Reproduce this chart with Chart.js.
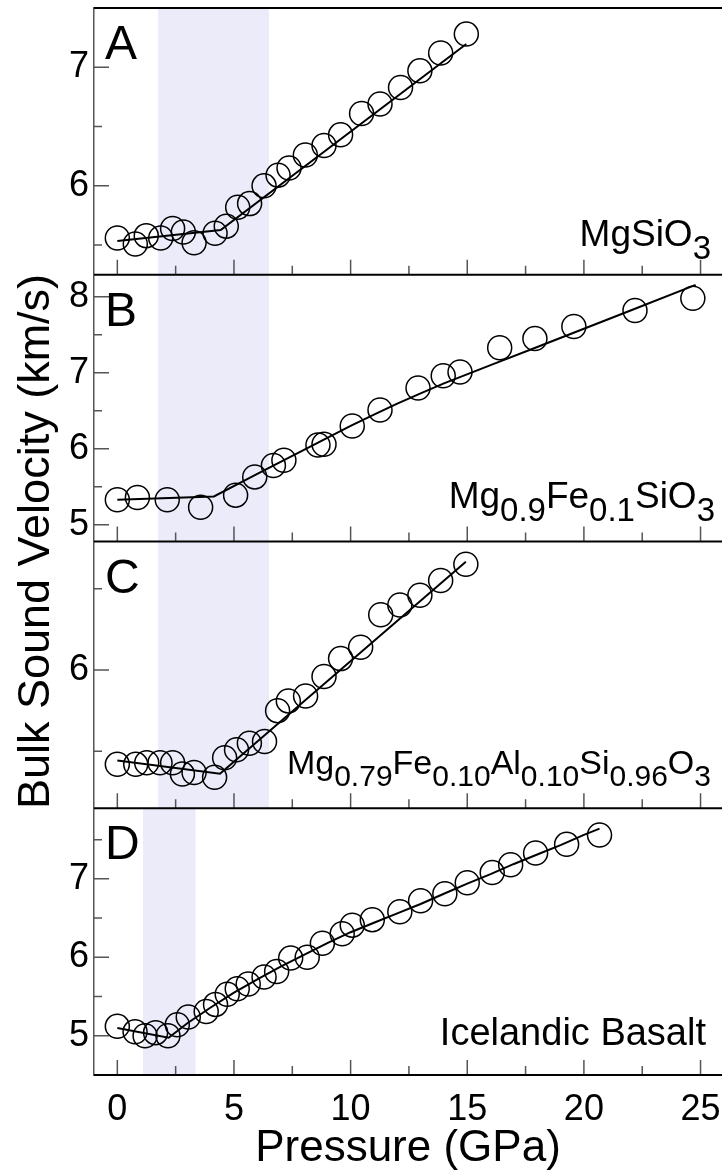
<!DOCTYPE html>
<html>
<head>
<meta charset="utf-8">
<script src="https://cdn.jsdelivr.net/npm/chart.js@4/dist/chart.umd.min.js"></script>
<style>
  html, body { margin: 0; padding: 0; background: #fff; overflow: hidden; }
  canvas { display: block; }
</style>
</head>
<body>
<canvas id="chart" width="722" height="1175"></canvas>
<script>
// pressure (GPa) and bulk sound velocity (km/s)
var pressA = [0, 0.77, 1.24, 1.86, 2.37, 2.83, 3.29, 4.19, 4.67, 5.16, 5.67, 6.29, 6.89, 7.36, 8.06, 8.86, 9.57, 10.47, 11.26, 12.14, 12.97, 13.86, 14.96];
var velA = [5.56, 5.51, 5.58, 5.56, 5.64, 5.61, 5.52, 5.60, 5.66, 5.82, 5.85, 6.00, 6.09, 6.15, 6.26, 6.34, 6.43, 6.61, 6.69, 6.83, 6.97, 7.12, 7.28];
var fitPressA = [0, 4.43, 14.96];
var fitVelA = [5.535, 5.628, 7.197];

var pressB = [0, 0.86, 2.14, 3.57, 5.07, 5.89, 6.69, 7.14, 8.6, 8.86, 10.07, 11.26, 12.89, 13.97, 14.69, 16.39, 17.9, 19.57, 22.19, 24.67];
var velB = [5.33, 5.36, 5.33, 5.23, 5.39, 5.63, 5.78, 5.85, 6.05, 6.06, 6.30, 6.51, 6.80, 6.96, 7.01, 7.33, 7.45, 7.61, 7.82, 7.98];
var fitPressB = [0, 4.14, 6, 8, 10, 11, 12, 13, 14, 16, 18, 20, 22, 24.79];
var fitVelB = [5.328, 5.372, 5.67, 5.985, 6.30, 6.45, 6.595, 6.73, 6.86, 7.10, 7.34, 7.58, 7.82, 8.157];

var pressC = [0, 0.79, 1.26, 1.83, 2.37, 2.79, 3.29, 4.17, 4.6, 5.11, 5.66, 6.31, 6.87, 7.33, 8.07, 8.86, 9.57, 10.43, 11.29, 12.11, 12.97, 13.86, 14.94];
var velC = [5.42, 5.42, 5.43, 5.43, 5.43, 5.36, 5.37, 5.34, 5.46, 5.51, 5.55, 5.56, 5.75, 5.81, 5.84, 5.96, 6.07, 6.14, 6.34, 6.40, 6.46, 6.55, 6.65];
var fitPressC = [0, 4.4, 14.94];
var fitVelC = [5.444, 5.362, 6.665];

var pressD = [0, 0.76, 1.19, 1.64, 2.17, 2.57, 3.04, 3.81, 4.21, 4.71, 5.14, 5.61, 6.29, 6.83, 7.43, 8.14, 8.79, 9.64, 10.07, 10.93, 12.11, 13.0, 14.04, 15.0, 16.07, 16.86, 17.93, 19.26, 20.67];
var velD = [5.12, 5.05, 5.00, 5.04, 5.00, 5.14, 5.24, 5.31, 5.40, 5.53, 5.60, 5.66, 5.75, 5.82, 5.99, 6.00, 6.18, 6.30, 6.41, 6.48, 6.58, 6.72, 6.81, 6.95, 7.08, 7.18, 7.33, 7.44, 7.56];
var fitPressD = [0, 2.2, 3, 4, 5, 6, 7, 8, 9, 10, 11, 12, 13, 14, 15, 16, 17, 18, 19, 20, 20.67];
var fitVelD = [5.10, 4.975, 5.16, 5.36, 5.55, 5.72, 5.88, 6.03, 6.18, 6.32, 6.44, 6.56, 6.68, 6.81, 6.94, 7.06, 7.19, 7.31, 7.43, 7.56, 7.64];

// shaded pressure bands
var shadeA = [1.75, 6.5];
var shadeB = [1.75, 6.5];
var shadeC = [1.75, 6.5];
var shadeD = [1.1, 3.35];

// axis ranges and labelled ticks
var pressRange = [-1, 25.92];
var pressTicks = [0, 5, 10, 15, 20, 25];
var rangeA = [5.25, 7.5];
var rangeB = [4.78, 8.29];
var rangeC = [5.15, 6.79];
var rangeD = [4.5, 7.9];
var ticksA = [6, 7];
var ticksB = [5, 6, 7, 8];
var ticksC = [6];
var ticksD = [5, 6, 7];

// sample names, [text, isSubscript]
var nameA = [["MgSiO", 0], ["3", 1]];
var nameB = [["Mg", 0], ["0.9", 1], ["Fe", 0], ["0.1", 1], ["SiO", 0], ["3", 1]];
var nameC = [["Mg", 0], ["0.79", 1], ["Fe", 0], ["0.10", 1], ["Al", 0], ["0.10", 1], ["Si", 0], ["0.96", 1], ["O", 0], ["3", 1]];
var nameD = [["Icelandic Basalt", 0]];

var FONT = "'Liberation Sans', Arial, Helvetica, sans-serif";
Chart.defaults.font.family = FONT;
Chart.defaults.color = "#000";

var panels = [
    { id: "yA", letter: "A", shade: shadeA, name: nameA, size: 37, right: 11, base: 29 },
    { id: "yB", letter: "B", shade: shadeB, name: nameB, size: 37, right: 7, base: 34 },
    { id: "yC", letter: "C", shade: shadeC, name: nameC, size: 34, right: 11, base: 34 },
    { id: "yD", letter: "D", shade: shadeD, name: nameD, size: 38, right: 16, base: 30 },
];

function pts(xs, ys) {
    return xs.map(function (x, i) { return { x: x, y: ys[i] }; });
}

function yAxis(range, labels) {
    return {
        type: "linear",
        position: "left",
        stack: "v",
        stackWeight: 1,
        weight: 0,
        min: range[0],
        max: range[1],
        grid: { display: false, drawTicks: false },
        border: { display: true, color: "#555", width: 1.5 },
        ticks: {
            stepSize: 0.5,
            includeBounds: false,
            autoSkip: false,
            padding: 5,
            font: { size: 36 },
            callback: function (v) { return labels.indexOf(v) >= 0 ? String(v) : ""; },
        },
        afterFit: function (s) {
            s.width = 36;
            s.paddingTop = 0;
            s.paddingBottom = 0;
        },
    };
}

var deco = {
    id: "deco",
    beforeDatasetsDraw: function (chart) {
        var ctx = chart.ctx, xs = chart.scales.x;
        ctx.save();
        ctx.fillStyle = "rgb(235,235,250)";
        panels.forEach(function (p) {
            var ys = chart.scales[p.id];
            var x1 = xs.getPixelForValue(p.shade[0]);
            var x2 = xs.getPixelForValue(p.shade[1]);
            ctx.fillRect(x1, ys.top, x2 - x1, ys.bottom - ys.top);
        });
        ctx.restore();
    },
    afterDatasetsDraw: function (chart) {
        var ctx = chart.ctx, xs = chart.scales.x, area = chart.chartArea;
        ctx.save();
        panels.forEach(function (p, idx) {
            var ys = chart.scales[p.id];
            // inward ticks
            ctx.strokeStyle = "#555";
            ctx.lineWidth = 1.5;
            ctx.beginPath();
            for (var v = 0; v <= 25; v += 2.5) {
                var px = xs.getPixelForValue(v);
                var len = v % 5 === 0 ? 15 : 9;
                ctx.moveTo(px, ys.bottom);
                ctx.lineTo(px, ys.bottom - len);
            }
            ys.ticks.forEach(function (t) {
                var py = ys.getPixelForValue(t.value);
                var len = Number.isInteger(t.value) ? 15 : 8;
                ctx.moveTo(area.left, py);
                ctx.lineTo(area.left + len, py);
            });
            ctx.stroke();
            // panel frame lines
            ctx.strokeStyle = "#000";
            ctx.lineWidth = 2;
            ctx.beginPath();
            ctx.moveTo(area.left, ys.top);
            ctx.lineTo(area.right, ys.top);
            if (idx === panels.length - 1) {
                ctx.moveTo(area.left, ys.bottom);
                ctx.lineTo(area.right, ys.bottom);
            }
            ctx.stroke();
            // panel letter
            ctx.fillStyle = "#000";
            ctx.textAlign = "left";
            ctx.textBaseline = "alphabetic";
            ctx.font = "48px " + FONT;
            ctx.fillText(p.letter, area.left + 11, ys.top + 51);
            // sample name with subscripts
            var main = p.size + "px " + FONT;
            var sub = Math.round(p.size * 0.88) + "px " + FONT;
            var total = 0;
            p.name.forEach(function (s) {
                ctx.font = s[1] ? sub : main;
                total += ctx.measureText(s[0]).width;
            });
            var x = area.right - p.right - total;
            var base = ys.bottom - p.base;
            p.name.forEach(function (s) {
                ctx.font = s[1] ? sub : main;
                ctx.fillText(s[0], x, base + (s[1] ? p.size * 0.36 : 0));
                x += ctx.measureText(s[0]).width;
            });
        });
        ctx.restore();
    },
};

function circles(px, vy, axis) {
    return {
        data: pts(px, vy),
        yAxisID: axis,
        xAxisID: "x",
        showLine: false,
        pointRadius: 12,
        pointBorderWidth: 1.5,
        pointBorderColor: "#000",
        pointBackgroundColor: "rgba(0,0,0,0)",
    };
}

function fit(px, vy, axis) {
    return {
        data: pts(px, vy),
        yAxisID: axis,
        xAxisID: "x",
        showLine: true,
        borderColor: "#000",
        borderWidth: 2,
        pointRadius: 0,
        fill: false,
    };
}

new Chart(document.getElementById("chart"), {
    type: "scatter",
    data: {
        datasets: [
            circles(pressA, velA, "yA"), fit(fitPressA, fitVelA, "yA"),
            circles(pressB, velB, "yB"), fit(fitPressB, fitVelB, "yB"),
            circles(pressC, velC, "yC"), fit(fitPressC, fitVelC, "yC"),
            circles(pressD, velD, "yD"), fit(fitPressD, fitVelD, "yD"),
        ],
    },
    options: {
        responsive: false,
        animation: false,
        devicePixelRatio: 1,
        layout: { autoPadding: false, padding: { top: 8, left: 0, right: 0, bottom: 0 } },
        plugins: { legend: { display: false }, tooltip: { enabled: false } },
        scales: {
            x: {
                type: "linear",
                position: "bottom",
                min: pressRange[0],
                max: pressRange[1],
                grid: { display: false, drawTicks: false },
                border: { display: false },
                ticks: {
                    stepSize: 5,
                    includeBounds: false,
                    maxRotation: 0,
                    padding: 13,
                    font: { size: 36 },
                    callback: function (v) { return pressTicks.indexOf(v) >= 0 ? String(v) : ""; },
                },
                title: { display: true, text: "Pressure (GPa)", font: { size: 44 }, padding: { top: 0, bottom: 0 } },
                afterFit: function (s) {
                    s.height = 100;
                    s.paddingLeft = 0;
                    s.paddingRight = 0;
                },
            },
            yT: {
                type: "linear",
                position: "left",
                weight: 10,
                min: 0,
                max: 1,
                grid: { display: false, drawTicks: false },
                border: { display: false },
                ticks: { display: false },
                title: { display: true, text: "Bulk Sound Velocity (km/s)", font: { size: 45 }, padding: { top: 10, bottom: 0 } },
                afterFit: function (s) {
                    s.width = 58;
                    s.paddingTop = 0;
                    s.paddingBottom = 0;
                },
            },
            yD: yAxis(rangeD, ticksD),
            yC: yAxis(rangeC, ticksC),
            yB: yAxis(rangeB, ticksB),
            yA: yAxis(rangeA, ticksA),
        },
    },
    plugins: [deco],
});
</script>
</body>
</html>
